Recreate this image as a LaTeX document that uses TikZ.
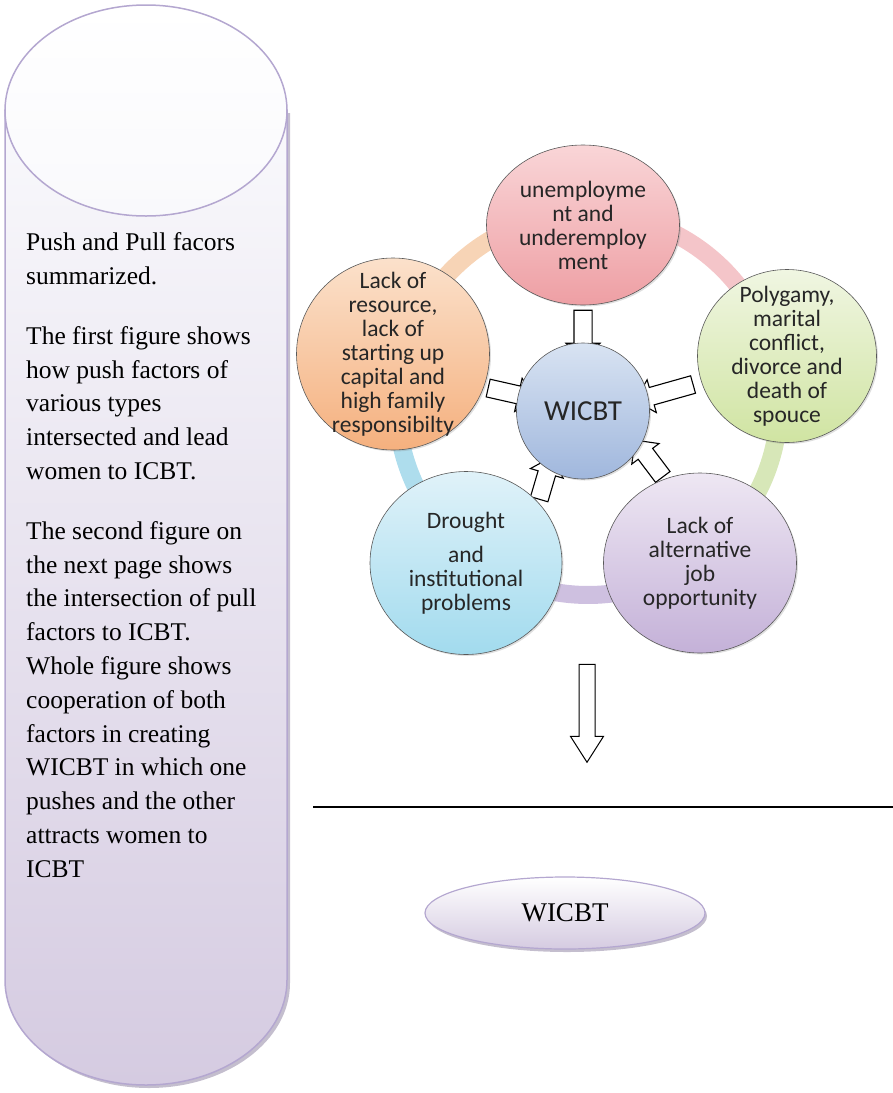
\documentclass[tikz,border=0pt]{standalone}
\usepackage{fontspec}
\setmainfont{Liberation Serif}
\newfontfamily\smartfont{Carlito}
\usepackage{tikz}
\usetikzlibrary{shapes.geometric, shapes.arrows, shadows, backgrounds}

\definecolor{cylline}{HTML}{B4A7D0}
\definecolor{cyltop}{HTML}{F9F9FC}
\definecolor{cylbot}{HTML}{D5CBE1}
\definecolor{cylshade}{HTML}{9D93AD}
\definecolor{redtop}{HTML}{F9D5D7}
\definecolor{redbot}{HTML}{EE9FA4}
\definecolor{orgtop}{HTML}{FBE1CB}
\definecolor{orgbot}{HTML}{F5B07E}
\definecolor{grntop}{HTML}{F0F6E2}
\definecolor{grnbot}{HTML}{D0E4A2}
\definecolor{blutop}{HTML}{D8E3F2}
\definecolor{blubot}{HTML}{A0B7DD}
\definecolor{cyntop}{HTML}{E0F2F9}
\definecolor{cynbot}{HTML}{A2DBEE}
\definecolor{purtop}{HTML}{EEE7F3}
\definecolor{purbot}{HTML}{C4B1D8}
\definecolor{ringred}{HTML}{F4C5C9}
\definecolor{ringgrn}{HTML}{D7E7B8}
\definecolor{ringpur}{HTML}{CEC0E0}
\definecolor{ringcyn}{HTML}{AEDDED}
\definecolor{ringorg}{HTML}{F7D4B6}

\begin{document}
\begin{tikzpicture}[x=1pt, y=-1pt,
    factor/.style={ellipse, draw=black!65, line width=0.6pt, inner sep=0pt,
        drop shadow={opacity=0.25, shadow xshift=1.5pt, shadow yshift=-1.5pt}},
    factortext/.style={align=center, text=black!85, font=\smartfont\fontsize{23.5}{24}\selectfont},
    ringpart/.style={line width=18pt},
    blockarrow/.style={single arrow, draw=black, line width=1.1pt, fill=white,
        inner sep=8.5pt, single arrow head extend=8pt, minimum height=#1},
    pusharrow/.style={blockarrow=#1, sloped, allow upside down}]
    \useasboundingbox (0,0) rectangle (893,1093);

    % Cylinder with the summary
    \draw[cylline, line width=1.5pt, top color=cyltop, bottom color=cylbot,
        drop shadow={opacity=0.6, fill=cylshade, shadow xshift=3pt, shadow yshift=-3pt}]
        (5,110) -- (5,980) arc[start angle=180, end angle=0, x radius=141, y radius=105] -- (287,110) -- cycle;
    \draw[cylline, line width=1.5pt, top color=white, bottom color=cyltop]
        (146,110.5) ellipse [x radius=141, y radius=105.5];
    \node[anchor=north west, inner sep=0pt, align=left, font=\fontsize{25.5}{33.8}\selectfont] (summary) at (26,232.5) {
        Push and Pull facors\\
        summarized.\\[26pt]
        The first figure shows\\
        how push factors of\\
        various types\\
        intersected and lead\\
        women to ICBT.\\[26pt]
        The second figure on\\
        the next page shows\\
        the intersection of pull\\
        factors to ICBT.\\
        Whole figure shows\\
        cooperation of both\\
        factors in creating\\
        WICBT in which one\\
        pushes and the other\\
        attracts women to\\
        ICBT};

    % Push factors round WICBT
    \coordinate (hub) at (588,404);
    \node[factor, minimum width=193pt, minimum height=160pt, top color=redtop, bottom color=redbot] (unemp) at (583,225) {};
    \node[factortext] at (unemp) {unemployme\\nt and\\underemploy\\ment};
    \node[factor, minimum width=193pt, minimum height=192pt, top color=orgtop, bottom color=orgbot] (resource) at (393,354) {};
    \node[factortext] at (resource) {Lack of\\resource,\\lack of\\starting up\\capital and\\high family\\responsibilty};
    \node[factor, minimum width=179pt, minimum height=173pt, top color=grntop, bottom color=grnbot] (polygamy) at (787,356) {};
    \node[factortext] at (polygamy) {Polygamy,\\marital\\conflict,\\divorce and\\death of\\spouce};
    \node[factor, minimum width=192pt, minimum height=183pt, top color=cyntop, bottom color=cynbot] (drought) at (466,563) {};
    \node[factortext] at (drought) {Drought\\[10pt]and\\institutional\\problems};
    \node[factor, minimum width=193pt, minimum height=180pt, top color=purtop, bottom color=purbot] (altjob) at (700,563) {};
    \node[factortext] at (altjob) {Lack of\\alternative\\job\\opportunity};
    \node[factor, minimum width=133pt, minimum height=136pt, top color=blutop, bottom color=blubot] (wicbt) at (583,411) {};
    \node[factortext, font=\smartfont\fontsize{29}{30}\selectfont] at (wicbt) {WICBT};

    \begin{pgfonlayer}{background}
        % ring behind the circles
        \draw[ringpart, ringred] (hub) ++(268.4:191) arc[start angle=268.4, end angle=346.4, radius=191];
        \draw[ringpart, ringgrn] (hub) ++(346.4:191) arc[start angle=346.4, end angle=414.8, radius=191];
        \draw[ringpart, ringpur] (hub) ++(54.8:191) arc[start angle=54.8, end angle=127.5, radius=191];
        \draw[ringpart, ringcyn] (hub) ++(127.5:191) arc[start angle=127.5, end angle=194.4, radius=191];
        \draw[ringpart, ringorg] (hub) ++(194.4:191) arc[start angle=194.4, end angle=268.4, radius=191];

        % block arrows into WICBT
        \path (unemp.south) -- (wicbt.north) node[pusharrow=50pt, pos=0.68] {};
        \path (resource.-20) -- (wicbt.166) node[pusharrow=48pt, pos=0.68] {};
        \path (polygamy.197) -- (wicbt.12) node[pusharrow=60pt, pos=0.62] {};
        \path (drought.40) -- (wicbt.239) node[pusharrow=44pt, pos=0.6] {};
        \path (altjob.113) -- (wicbt.-32) node[pusharrow=46pt, pos=0.52] {};
    \end{pgfonlayer}

    % result below the rule
    \node[blockarrow=98pt, rotate=-90, line width=1pt, inner sep=7.5pt, single arrow head extend=8.5pt, single arrow tip angle=65] (down) at (587,707) {};
    \draw[line width=1.2pt] (313,807) -- (893,807);
    \node[ellipse, minimum width=280pt, minimum height=72pt, draw=cylline, line width=1.2pt,
        top color=white, bottom color=cylbot, font=\fontsize{27}{30}\selectfont,
        drop shadow={opacity=0.6, fill=cylshade, shadow xshift=2pt, shadow yshift=-3pt}] (wicbtout) at (565,913) {WICBT};
\end{tikzpicture}
\end{document}
